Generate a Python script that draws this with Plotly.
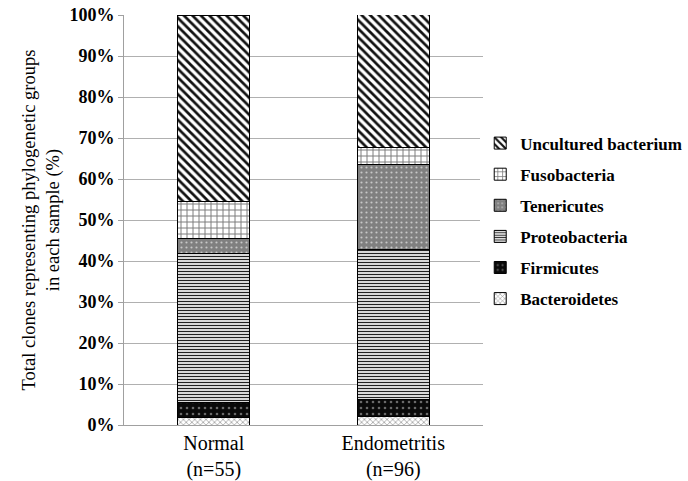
import plotly.graph_objects as go

groups = ["Normal<br>(n=55)", "Endometritis<br>(n=96)"]
series_names = ["Bacteroidetes", "Firmicutes", "Proteobacteria", "Tenericutes", "Fusobacteria", "Uncultured bacterium"]
bacteroidetes = [1.8, 2.1]
firmicutes = [3.6, 4.2]
proteobacteria = [36.4, 36.5]
tenericutes = [3.6, 20.8]
fusobacteria = [9.1, 4.2]
uncultured = [45.5, 32.3]
values = [bacteroidetes, firmicutes, proteobacteria, tenericutes, fusobacteria, uncultured]
y_ticks = [0, 10, 20, 30, 40, 50, 60, 70, 80, 90, 100]
y_ticklabels = [f"{v}%" for v in y_ticks]

patterns = [
    dict(shape="x", fgcolor="#8a8a8a", bgcolor="white", size=4, solidity=0.3),
    dict(shape=".", fgcolor="#6a6a6a", bgcolor="#0a0a0a", size=6, solidity=0.15),
    dict(shape="-", fgcolor="#222222", bgcolor="white", size=3, solidity=0.45),
    dict(shape=".", fgcolor="#c8c8c8", bgcolor="#808080", size=5, solidity=0.15),
    dict(shape="+", fgcolor="#7a7a7a", bgcolor="white", size=6, solidity=0.3),
    dict(shape="\\", fgcolor="#111111", bgcolor="white", size=6, solidity=0.45),
]

FONT = "Liberation Serif"
fig = go.Figure()
n = len(series_names)
for i, (name, vals, pat) in enumerate(zip(series_names, values, patterns)):
    fig.add_trace(go.Bar(
        x=groups, y=vals, name=name, width=0.4, legendgroup=name,
        legendrank=n - i,
        marker=dict(color=pat["bgcolor"], pattern=dict(fillmode="replace", **pat),
                    line=dict(color="black", width=1)),
    ))

fig.update_layout(
    barmode="stack",
    width=688, height=481,
    margin=dict(l=124, r=205, t=15, b=56, autoexpand=False),
    plot_bgcolor="white", paper_bgcolor="white",
    font=dict(family=FONT, color="black"),
    bargap=0.6,
    legend=dict(
        xref="container", yref="container",
        x=0.698, y=0.739, xanchor="left", yanchor="top",
        traceorder="grouped", tracegroupgap=6,
        font=dict(family=FONT, size=17, color="black", weight="bold"),
        itemwidth=30,
    ),
    xaxis=dict(
        showline=True, linecolor="#a0a0a0", linewidth=1, automargin=False,
        tickfont=dict(family=FONT, size=20), ticks="",
    ),
    yaxis=dict(
        range=[0, 100], tickvals=y_ticks, ticktext=y_ticklabels, automargin=False,
        ticklabeloverflow="allow",
        showgrid=True, gridcolor="#b0b0b0", gridwidth=1,
        showline=True, linecolor="#a0a0a0", linewidth=1,
        ticks="outside", ticklen=5, tickcolor="#a0a0a0",
        tickfont=dict(family=FONT, size=18, weight="bold"),
        title=dict(text="Total clones representing phylogenetic groups<br>in each sample (%)",
                   font=dict(family=FONT, size=18.5), standoff=4),
        zeroline=False,
    ),
)

# remove the page's default body margin so the 688x481 figure fills the window
fig.write_html("out.html", config={"displayModeBar": False},
               post_script="document.body.style.margin='0';")
